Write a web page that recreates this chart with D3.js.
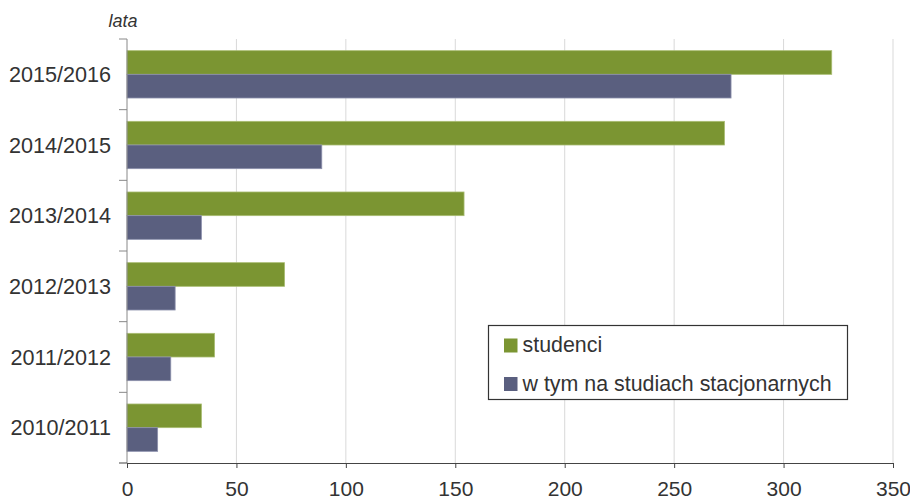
<!DOCTYPE html>
<html>
<head>
<meta charset="utf-8">
<script src="https://cdn.jsdelivr.net/npm/d3@7/dist/d3.min.js"></script>
<style>
  html, body { margin: 0; padding: 0; background: #fff; }
  svg { display: block; font-family: "Liberation Sans", Arial, sans-serif; }
</style>
</head>
<body>
<svg id="chart" width="910" height="500"></svg>
<script>
// Academic years, top to bottom
const years = ["2015/2016", "2014/2015", "2013/2014", "2012/2013", "2011/2012", "2010/2011"];
// Number of students
const studenci = [322, 273, 154, 72, 40, 34];
// of which full-time students
const stacjonarne = [276, 89, 34, 22, 20, 14];
const xTicks = [0, 50, 100, 150, 200, 250, 300, 350];
const seriesNames = ["studenci", "w tym na studiach stacjonarnych"];

const colors = { green: "#7b9532", blue: "#5a5f7f" };
const strokes = { green: "#a9bc72", blue: "#8d91ad" };
const textColor = "#333";

const svg = d3.select("#chart");
const m = { left: 127, right: 17, top: 39, bottom: 37 };
const W = 910, H = 500;

const x = d3.scaleLinear().domain([0, 350]).range([m.left, W - m.right]);
const y = d3.scaleBand().domain(years).range([m.top, H - m.bottom]).paddingInner(0.33).paddingOuter(0.165);

// vertical gridlines
svg.append("g").selectAll("line").data(xTicks.slice(1)).join("line")
  .attr("x1", d => x(d)).attr("x2", d => x(d))
  .attr("y1", m.top).attr("y2", H - m.bottom)
  .attr("stroke", "#d9d9d9").attr("stroke-width", 1);

// bars
const rows = years.map((yr, i) => ({ yr, a: studenci[i], b: stacjonarne[i] }));
const bh = y.bandwidth() / 2;
const g = svg.append("g");
g.selectAll("rect.a").data(rows).join("rect").attr("class", "a")
  .attr("x", x(0)).attr("y", d => y(d.yr))
  .attr("width", d => x(d.a) - x(0)).attr("height", bh)
  .attr("fill", colors.green).attr("stroke", strokes.green).attr("stroke-width", 0.8);
g.selectAll("rect.b").data(rows).join("rect").attr("class", "b")
  .attr("x", x(0)).attr("y", d => y(d.yr) + bh)
  .attr("width", d => x(d.b) - x(0)).attr("height", bh)
  .attr("fill", colors.blue).attr("stroke", strokes.blue).attr("stroke-width", 0.8);

// left axis: ticks at band boundaries
const yl = svg.append("g");
yl.append("line").attr("x1", m.left).attr("x2", m.left)
  .attr("y1", m.top).attr("y2", H - m.bottom).attr("stroke", "#888");
const bounds = d3.range(years.length).map(i => m.top + i * (H - m.bottom - m.top) / years.length);
yl.selectAll("line.t").data(bounds).join("line").attr("class", "t")
  .attr("x1", m.left - 8).attr("x2", m.left).attr("y1", d => d).attr("y2", d => d)
  .attr("stroke", "#888");
yl.selectAll("text").data(years).join("text")
  .attr("x", 111).attr("y", d => y(d) + y.bandwidth() / 2)
  .attr("dy", "0.35em").attr("text-anchor", "end")
  .attr("font-size", 21.6).attr("fill", textColor).text(d => d);

// bottom axis
const xAxis = svg.append("g").attr("transform", `translate(0,${H - m.bottom})`)
  .call(d3.axisBottom(x).tickValues(xTicks).tickSize(5).tickPadding(13).tickSizeOuter(0));
xAxis.select(".domain").attr("stroke", "#444");
xAxis.append("line").attr("x1", m.left - 8).attr("x2", m.left).attr("stroke", "#444");
xAxis.selectAll(".tick line").attr("stroke", "#444");
xAxis.selectAll(".tick text").attr("fill", textColor).attr("font-size", 21)
  .attr("font-family", "Liberation Sans, Arial, sans-serif");

// axis title
svg.append("text").attr("x", 123).attr("y", 27).attr("text-anchor", "middle")
  .attr("font-size", 18).attr("font-style", "italic").attr("fill", textColor).text("lata");

// legend
const lg = svg.append("g");
lg.append("rect").attr("x", 488.5).attr("y", 325.5).attr("width", 359).attr("height", 74)
  .attr("fill", "#fff").attr("stroke", "#333").attr("stroke-width", 1.2);
[colors.green, colors.blue].forEach((c, i) => {
  lg.append("rect").attr("x", 504).attr("y", 338.5 + i * 38.5).attr("width", 13.5).attr("height", 14)
    .attr("fill", c);
  lg.append("text").attr("x", 522.5).attr("y", 352 + i * 38.5)
    .attr("font-size", 21.4).attr("fill", textColor).text(seriesNames[i]);
});
</script>
</body>
</html>
